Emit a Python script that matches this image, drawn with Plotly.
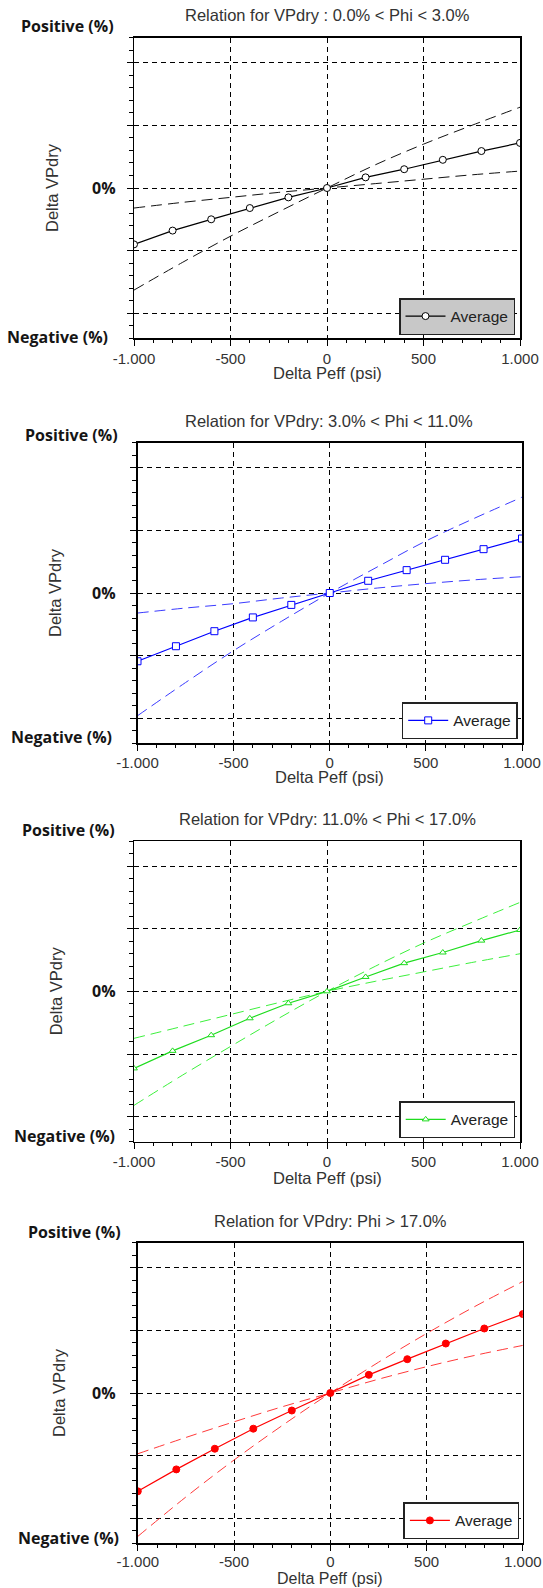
import plotly.graph_objects as go

W, H = 543, 1588

# ---------------- data ----------------
X_AVG = [-1000, -800, -600, -400, -200, 0, 200, 400, 600, 800, 1000]
X_ENV = [-1000, -750, -500, -250, 0, 250, 500, 750, 1000]

AVG_1 = [-0.90, -0.68, -0.50, -0.32, -0.15, 0.0, 0.17, 0.30, 0.45, 0.59, 0.72]
STEEP_1 = [-1.63, -1.19, -0.77, -0.38, 0.0, 0.37, 0.70, 1.00, 1.29]
FLAT_1 = [-0.32, -0.23, -0.15, -0.07, 0.0, 0.07, 0.14, 0.21, 0.27]

AVG_2 = [-1.09, -0.85, -0.61, -0.39, -0.19, 0.0, 0.195, 0.365, 0.53, 0.70, 0.87]
STEEP_2 = [-1.96, -1.43, -0.92, -0.45, 0.0, 0.42, 0.83, 1.19, 1.53]
FLAT_2 = [-0.32, -0.24, -0.17, -0.08, 0.0, 0.08, 0.15, 0.21, 0.26]

AVG_3 = [-1.23, -0.95, -0.70, -0.43, -0.19, 0.0, 0.23, 0.45, 0.62, 0.81, 0.98]
STEEP_3 = [-1.82, -1.34, -0.88, -0.43, 0.0, 0.40, 0.77, 1.10, 1.42]
FLAT_3 = [-0.75, -0.56, -0.37, -0.18, 0.0, 0.16, 0.31, 0.46, 0.60]

AVG_4 = [-1.57, -1.22, -0.89, -0.57, -0.28, 0.0, 0.29, 0.54, 0.79, 1.03, 1.26]
STEEP_4 = [-2.29, -1.66, -1.07, -0.52, 0.0, 0.49, 0.95, 1.38, 1.78]
FLAT_4 = [-0.97, -0.71, -0.46, -0.22, 0.0, 0.22, 0.42, 0.60, 0.76]

TITLES = [
    "Relation for VPdry : 0.0% < Phi < 3.0%",
    "Relation for VPdry: 3.0% < Phi < 11.0%",
    "Relation for VPdry: 11.0% < Phi < 17.0%",
    "Relation for VPdry: Phi > 17.0%",
]
SERIES_NAME = "Average"
X_TICK_VALS = [-1000, -500, 0, 500, 1000]
X_TICK_TEXT = ["-1.000", "-500", "0", "500", "1.000"]
Y_GRID_VALS = [-2, -1, 0, 1, 2]
Y_LABEL_TOP = "Positive (%)"
Y_LABEL_MID = "0%"
Y_LABEL_BOT = "Negative (%)"
X_TITLE = "Delta Peff (psi)"
Y_TITLE = "Delta VPdry"

AVGS = [AVG_1, AVG_2, AVG_3, AVG_4]
STEEPS = [STEEP_1, STEEP_2, STEEP_3, STEEP_4]
FLATS = [FLAT_1, FLAT_2, FLAT_3, FLAT_4]

# ---------------- styles / layout geometry (pixels) ----------------
STYLES = [
    dict(line="#000000", dash="#111111", symbol="circle", mfill="#ffffff", msize=7, legbg="#c8c8c8"),
    dict(line="#0000ff", dash="#3a3aff", symbol="square", mfill="#ffffff", msize=7, legbg="#ffffff"),
    dict(line="#1edc1e", dash="#3cf03c", symbol="triangle-up", mfill="#ffffff", msize=6, legbg="#ffffff"),
    dict(line="#ff0000", dash="#ff3a3a", symbol="circle", mfill="#ff0000", msize=7, legbg="#ffffff"),
]

GEOM = [
    dict(L=134, R=520, T=37.7, B=338.3, ty=15, tx=327, pos=(116, 26), mid=117.7, neg=(110, 336.7), ytx=52, leg=(515, 335), xt=35, so=0, xfs=16.5),
    dict(L=137.5, R=522, T=442.7, B=743.3, ty=420.7, tx=329, pos=(119.5, 435), mid=117.7, neg=(114, 736.7), ytx=55, leg=(517.7, 739.3), xt=34, so=-1, xfs=16.5),
    dict(L=134, R=520, T=841, B=1141.7, ty=819.3, tx=327, pos=(117, 830), mid=117.7, neg=(117, 1136), ytx=56, leg=(515.2, 1138.3), xt=36, so=0, xfs=16.5),
    dict(L=137.8, R=522.8, T=1242.7, B=1543.3, ty=1220.7, tx=330, pos=(123, 1232.3), mid=117.7, neg=(121, 1537.7), ytx=59, leg=(519.4, 1539.3), xt=35, so=-2, xfs=16),
]


def px(x):
    return x / W


def py(y):
    return 1 - y / H


SANS = "Arial, 'Liberation Sans', sans-serif"
BOLD = "'Open Sans', sans-serif"

fig = go.Figure()
annotations = []
layout = dict(
    width=W, height=H,
    margin=dict(l=0, r=0, t=0, b=0, autoexpand=False),
    paper_bgcolor="white", plot_bgcolor="white",
    hovermode=False,
    font=dict(family=SANS, color="#222222"),
)

for i in range(4):
    n = i + 1
    sfx = "" if n == 1 else str(n)
    xa, ya = "x" + sfx, "y" + sfx
    lg = "legend" + sfx
    st, g = STYLES[i], GEOM[i]

    for env in (STEEPS[i], FLATS[i]):
        fig.add_trace(go.Scatter(
            x=X_ENV, y=env, mode="lines", xaxis=xa, yaxis=ya, showlegend=False,
            line=dict(color=st["dash"], width=1, dash="11px,6px", shape="spline"),
        ))
    fig.add_trace(go.Scatter(
        x=X_AVG, y=AVGS[i], mode="lines+markers", name=SERIES_NAME,
        xaxis=xa, yaxis=ya, legend=lg, showlegend=True,
        line=dict(color=st["line"], width=1.2),
        marker=dict(symbol=st["symbol"], size=st["msize"], color=st["mfill"],
                    line=dict(color=st["line"], width=1)),
    ))

    layout["xaxis" + sfx] = dict(
        domain=[px(g["L"]), px(g["R"])], anchor=ya, range=[-1000, 1000],
        automargin=False,
        tickvals=X_TICK_VALS, ticktext=X_TICK_TEXT,
        ticks="outside", ticklen=6, tickcolor="#000", tickwidth=1,
        ticklabelstandoff=g["so"],
        tickfont=dict(family=SANS, size=15, color="#333333"),
        showgrid=True, gridcolor="#000000", gridwidth=1, griddash="5px,4px",
        zeroline=False, showline=True, linecolor="#000000", linewidth=1.5, mirror=True,
        minor=dict(dtick=100, tick0=0, ticks="outside", ticklen=3, tickcolor="#000", showgrid=False),
        fixedrange=True,
    )
    layout["yaxis" + sfx] = dict(
        domain=[py(g["B"]), py(g["T"])], anchor=xa, range=[-2.4, 2.4],
        automargin=False,
        tickvals=Y_GRID_VALS, showticklabels=False,
        ticks="outside", ticklen=6, tickcolor="#000", tickwidth=1,
        showgrid=True, gridcolor="#000000", gridwidth=1, griddash="5px,4px",
        zeroline=False, showline=True, linecolor="#000000", linewidth=1.5, mirror=True,
        minor=dict(dtick=0.2, tick0=0, ticks="outside", ticklen=4, tickcolor="#000", showgrid=False),
        fixedrange=True,
    )
    layout[lg] = dict(
        x=px(g["leg"][0]), y=py(g["leg"][1]), xanchor="right", yanchor="bottom",
        bgcolor=st["legbg"], bordercolor="#222222", borderwidth=1.5,
        font=dict(family=SANS, size=15.5, color="#222222"),
        tracegroupgap=0, itemwidth=40,
    )

    annotations += [
        dict(text=TITLES[i], x=px(g["tx"]), y=py(g["ty"]), xref="paper", yref="paper",
             xanchor="center", yanchor="middle", showarrow=False,
             font=dict(family=SANS, size=16.5, color="#333333")),
        dict(text="<b>" + Y_LABEL_TOP + "</b>", x=px(g["pos"][0]), y=py(g["pos"][1]),
             xref="paper", yref="paper", xanchor="right", yanchor="middle", showarrow=False,
             font=dict(family=BOLD, size=16, color="#151515")),
        dict(text="<b>" + Y_LABEL_MID + "</b>", x=px(g["mid"]), y=0, xref="paper", yref=ya,
             xanchor="right", yanchor="middle", showarrow=False,
             font=dict(family=BOLD, size=16, color="#151515")),
        dict(text="<b>" + Y_LABEL_BOT + "</b>", x=px(g["neg"][0]), y=py(g["neg"][1]),
             xref="paper", yref="paper", xanchor="right", yanchor="middle", showarrow=False,
             font=dict(family=BOLD, size=16, color="#151515")),
        dict(text=Y_TITLE, x=px(g["ytx"]), y=py((g["T"] + g["B"]) / 2), xref="paper", yref="paper",
             xanchor="center", yanchor="middle", textangle=-90, showarrow=False,
             font=dict(family=SANS, size=16.5, color="#333333")),
        dict(text=X_TITLE, x=px((g["L"] + g["R"]) / 2), y=py(g["B"] + g["xt"]), xref="paper", yref="paper",
             xanchor="center", yanchor="middle", showarrow=False,
             font=dict(family=SANS, size=g["xfs"], color="#333333")),
    ]

layout["annotations"] = annotations
fig.update_layout(**layout)

fig.write_html("out.html", config={"displayModeBar": False, "staticPlot": True},
               post_script="document.body.style.margin='0';document.body.style.overflow='hidden';")
